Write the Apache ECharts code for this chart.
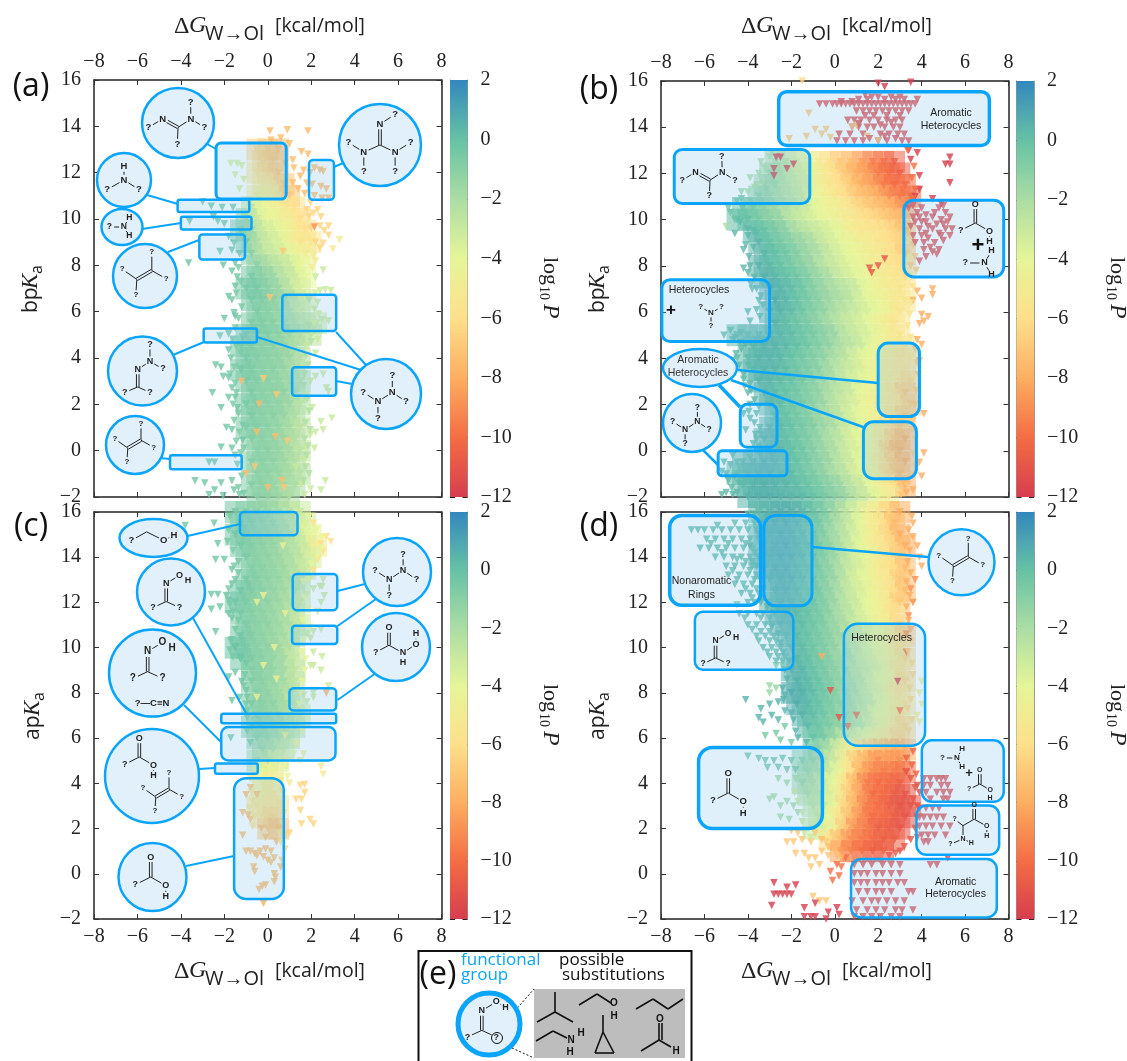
<!DOCTYPE html>
<html><head><meta charset="utf-8"><style>html,body{margin:0;padding:0;background:#fff}#c{width:1127px;height:1061px}</style>
<script src="https://cdn.jsdelivr.net/npm/echarts@6/dist/echarts.min.js"></script></head><body><div id="c"></div><script>
const xTicks=[-8,8],yTicks=[-2,16],cTicks=[-12,2];
const spectral=['#d53e4f','#f46d43','#fdae61','#fee08b','#e6f598','#abdda4','#66c2a5','#3288bd'];
// dense body of each cloud: [y, first x (step .5), log10 P ...]
const coreA=[[13,-.5,-6.5,-7,-7.5],[12.5,-.25,-6.5,-7],[12,-.5,-6,-6.5,-7],[11.5,-.25,-5.5,-6,-7],[11,-.5,-5,-5,-5.5,-7],[10.5,-.75,-2.5,-4,-4.5,-5,-6],[10,-1,-1.5,-3,-4,-4.5,-5,-6],[9.5,-1.25,-.5,-1.5,-3,-3.5,-4,-5,-6],[9,-1,-.5,-2,-3,-3.5,-4.5,-5.5,-5.5],[8.5,-.75,-1,-2.5,-3,-3.5,-4,-5],[8,-.5,-1,-2,-2.5,-3,-4],[7.5,-.75,-.5,-1,-1.5,-2.5,-3,-4],[7,-1,-.5,-.5,-1,-1.5,-2.5,-3.5],[6.5,-.75,-.5,-.7,-1,-1.5,-2.5,-3.5],[6,-.5,-.7,-1,-1.3,-2,-3],[5.5,-.75,-.7,-.8,-1,-1.5,-2,-2.5,-3],[5,-1,-.5,-.7,-.8,-1,-1.5,-2,-2.5],[4.5,-1.25,-.5,-.7,-1,-1,-1.3,-2],[4,-1,-.5,-.8,-1,-1.2,-1.5,-2.2],[3.5,-1.25,-.4,-.7,-1,-1,-1.3,-2],[3,-1,-.5,-.8,-1,-1.2,-1.6,-2.2],[2.5,-.75,-.7,-1,-1,-1.2,-1.8],[2,-1,-.5,-.8,-1,-1.2,-1.5,-2.3],[1.5,-.75,-.7,-1,-1,-1.3,-2],[1,-1,-.6,-.8,-1,-1.3,-1.8,-2.5],[.5,-.75,-.8,-1,-1.2,-1.5,-2.2],[0,-.5,-1,-1,-1.3,-1.8,-2.5],[-.5,-.75,-.8,-1,-1.2,-1.5,-2.2],[-1,-.5,-1,-1.1,-1.4,-1.8,-2.4],[-1.5,-.75,-.8,-1,-1.3,-1.6,-2],[-2,-.5,-1,-1.2,-1.5,-2]];
const coreB=[[12.5,-2.75,-2,-2.5,-3.5,-4,-5,-6,-7,-7.5,-8.5,-9.5,-10,-10.5],[12,-3,-1.5,-2,-3,-3.5,-4,-5,-6,-7,-8,-8.5,-9.5,-10,-10.5],[11.5,-3.25,-1.5,-1.5,-2.5,-3,-3.5,-4.5,-5.5,-6,-7,-8,-8.5,-9.5,-10,-10],[11,-3.5,-1,-1.5,-2,-2.5,-3,-4,-4.5,-5.5,-6,-7,-7.5,-8,-9,-9.5,-10],[10.5,-4.25,0,-.5,-1,-1.5,-2,-2.5,-3,-4,-4.5,-5,-5.5,-6.5,-7,-7.5,-8,-9],[10,-4.5,.2,0,-.5,-1,-1.5,-2.5,-3,-3.5,-4,-4.5,-5,-5.5,-6,-6.5,-7,-7.5],[9.5,-3.75,.3,0,-.5,-1,-2,-2.5,-3,-3.5,-4,-5,-5.5,-5.5,-6,-6.5,-7.5],[9,-3.5,.4,0,-.5,-1,-1.5,-2,-3,-3.5,-4,-4.5,-5,-5.5,-6,-6.5],[8.5,-3.25,.4,.1,-.3,-.8,-1.5,-2,-2.8,-3.5,-4,-4.5,-5,-5.5,-6,-7],[8,-3.5,.5,.3,0,-.5,-1,-1.5,-2.5,-3,-3.5,-4,-4.5,-5,-5.5,-6],[7.5,-3.25,.6,.4,.1,-.3,-.8,-1.5,-2,-3,-3.5,-4,-4.5,-5,-5.5,-6],[7,-3,.8,.5,.2,-.2,-.8,-1.5,-2,-2.5,-3,-4,-4.5,-5,-5.5],[6.5,-2.75,.7,.4,0,-.5,-1,-1.5,-2,-2.5,-3.5,-4,-4.5,-5,-5.5],[6,-3,.6,.5,.2,-.2,-.8,-1.2,-2,-2.5,-3,-3.5,-4,-4.5,-5.5],[5.5,-2.75,.5,.2,-.2,-.6,-1.2,-1.8,-2.5,-3,-3.5,-4,-5,-5.5],[5,-4.5,.2,.3,.4,.5,.4,.2,-.2,-.5,-1,-1.5,-2.5,-3,-3.5,-4,-5,-5.5],[4.5,-3.75,.4,.5,.5,.3,.1,-.3,-.8,-1.2,-2,-2.5,-3,-4,-4.5,-5,-5.5],[4,-4,.3,.5,.5,.4,0,-.3,-.8,-1.2,-2,-2.5,-3.5,-4,-4.5,-5,-6,-6],[3.5,-3.75,.4,.5,.4,.2,-.2,-.6,-1,-1.8,-2.5,-3,-3.5,-4.5,-5,-5.5,-6],[3,-3.5,.5,.4,.2,0,-.4,-.8,-1.5,-2,-3,-3.5,-4,-4.5,-5,-6,-6.5],[2.5,-3.25,.5,.3,0,-.3,-.8,-1.2,-2,-2.5,-3,-4,-4.5,-5,-6,-7],[2,-3,.4,.2,-.2,-.5,-1,-1.5,-2.5,-3,-3.5,-4.5,-5,-5.5,-6,-7],[1.5,-2.75,.3,0,-.4,-.8,-1.5,-2,-2.5,-3.5,-4,-4.5,-5,-6,-7],[1,-3,.5,.3,0,-.4,-.8,-1.5,-2,-3,-3.5,-4,-5,-6,-7],[.5,-3.25,.6,.4,.1,-.2,-.6,-1.2,-2,-2.5,-3.5,-4,-4.5,-5.5,-7,-8],[0,-3,.5,.4,.1,-.3,-.8,-1.5,-2,-3,-3.5,-4,-5,-7,-8],[-.5,-4.25,.4,.5,.6,.5,.3,0,-.4,-1,-1.5,-2.5,-3,-4,-4.5,-6,-7,-8],[-1,-4.5,.2,.4,.5,.6,.4,.2,-.2,-.6,-1.2,-2,-2.5,-3.5,-4,-5,-6.5,-7.5],[-1.5,-4.25,.3,.5,.6,.5,.4,.2,-.1,-.5,-1,-1.5,-2.5,-3,-4,-5,-6,-8],[-2,-4,.5,.6,.6,.5,.4,.3,0,-.5,-1,-1.5,-2.5,-3,-4,-5]];
const coreC=[[16,-1.5,-.4,-.8,-1,-1.3,-1.7,-2.3,-3],[15.5,-1.25,-.5,-.8,-1.1,-1.4,-2,-2.6,-3.5],[15,-1.5,-.3,-.6,-1,-1.2,-1.5,-2,-3,-4],[14.5,-1.25,-.5,-.8,-1,-1.3,-1.7,-2.3,-3,-5],[14,-1,-.6,-1,-1.2,-1.5,-2,-2.5,-3.5],[13.5,-.75,-.8,-1,-1.3,-1.6,-2.2,-3],[13,-1,-.5,-.9,-1.1,-1.4,-1.8,-2.5],[12.5,-1.25,-.3,-.7,-1,-1.3,-1.6,-2.2],[12,-1.5,-.2,-.6,-1,-1.2,-1.5,-2,-3],[11.5,-1.25,-.5,-.9,-1.1,-1.4,-1.8,-2.5],[11,-1,-.7,-1,-1.2,-1.6,-2,-3],[10.5,-1.25,-.3,-.8,-1.1,-1.4,-1.8,-2.5],[10,-1.5,0,-.5,-1,-1.2,-1.6,-2.2],[9.5,-1.25,-.2,-.7,-1,-1.3,-1.8,-2.8],[9,-.75,-.8,-1,-1.3,-1.8,-2.6],[8.5,-.75,-.7,-1,-1.3,-1.8,-2.6],[8,-.5,-.9,-1.2,-1.6,-2.2],[7.5,-.75,-.6,-1,-1.2,-1.7,-2.5],[7,-.5,-.8,-1.1,-1.4,-2,-3],[6.5,-.75,-.8,-1,-1.3,-1.8,-2.4],[6,-.5,-1,-1.3,-1.8,-2.4],[5.5,-.25,-1.5,-2,-2.8],[5,-.5,-1.8,-2.5,-3.5],[4.5,-.25,-4,-4.5],[4,-.25,-5,-5],[3.5,-.25,-5,-5.5],[3,-.5,-5.5,-5.5,-6],[2.5,-.25,-6,-6.5],[2,0,-7,-7.5]];
const coreD=[[16,-3.5,.3,.5,.7,.6,.4,0,-.6,-1.5,-2.5,-3.5,-4.5,-5.5,-6.5,-8],[15.5,-3.25,.5,.7,.7,.5,.1,-.4,-1.2,-2.2,-3,-4,-5,-6,-7.5],[15,-3.5,.4,.6,.7,.6,.3,-.2,-.8,-1.8,-2.5,-3.5,-4.5,-5.5,-6.5,-8],[14.5,-3.25,.5,.7,.8,.5,.2,-.5,-1.2,-2,-3,-4,-5,-5.5,-6.5,-8],[14,-3.5,.5,.6,.8,.7,.4,0,-.8,-1.5,-2.5,-3.5,-4,-5,-6,-7],[13.5,-3.25,.5,.7,.7,.4,.1,-.5,-1.2,-2,-3,-3.5,-4.5,-5.5,-6,-7.5],[13,-3,.6,.7,.6,.3,-.2,-.8,-1.5,-2.5,-3.5,-4,-5,-5.5,-7],[12.5,-2.75,.6,.6,.4,0,-.5,-1.2,-2,-3,-3.5,-4.5,-5,-6,-7.5],[12,-3,.4,.5,.5,.2,-.2,-.8,-1.5,-2.5,-3,-4,-4.5,-5.5,-7],[11.5,-2.75,.4,.5,.3,0,-.5,-1,-2,-2.5,-3.5,-4,-5,-6],[11,-2.5,.5,.4,.2,-.2,-.7,-1.5,-2,-3,-3.5,-4.5,-5,-6.5],[10.5,-2.25,.4,.3,0,-.5,-1,-1.5,-2.5,-3,-4,-4.5,-5.5,-7],[10,-2,.4,.2,-.2,-.7,-1.2,-2,-2.5,-3.5,-4,-5,-6],[9.5,-1.75,.4,.1,-.4,-.9,-1.5,-2,-3,-3.5,-4.5,-5,-6.5],[9,-2,.6,.4,0,-.5,-1,-1.5,-2.5,-3,-3.5,-4.5,-6],[8.5,-1.75,.6,.3,-.1,-.7,-1.2,-2,-2.5,-3.5,-4,-5,-6.5],[8,-2,.8,.6,.2,-.3,-.8,-1.5,-2,-3,-3.5,-5,-6],[7.5,-1.75,.7,.4,0,-.6,-1,-1.8,-2.5,-3,-4,-5,-6],[7,-1.5,.5,.2,-.3,-.8,-1.5,-2,-3,-4,-4.5,-6],[6.5,-1.25,.3,-.2,-.6,-1.2,-2,-2.5,-3.5,-4.5,-5.5,-6.5],[6,-1,0,-.5,-1.5,-2.5,-3.5,-4,-5,-5.5,-6.5],[5.5,-.75,-1,-2,-3.5,-5,-6,-7,-7.5,-8,-8],[5,-1.5,-.8,-1.2,-2,-3,-5,-7,-8,-9,-8.5,-9],[4.5,-1.25,-1.5,-2,-3,-4,-6,-8,-9,-9.5,-9.5,-10],[4,-1.5,-1.5,-2.2,-3,-4,-6,-8,-9.5,-10,-10,-10.5],[3.5,-1.25,-2,-2.5,-3.5,-5,-7,-8.5,-10,-10,-10.5,-11],[3,-1,-2.5,-3,-4,-6.5,-8,-9.5,-10,-10.5,-11,-11],[2.5,-.75,-3,-4,-6,-7.5,-9,-10,-10,-10.5,-11],[2,-1,-3,-3.5,-4.5,-7,-9,-9.5,-10.5,-10.5,-11],[1.5,-.25,-6,-7.5,-9,-9.5,-10,-10.5,-10.5],[1,.25,-8.5,-9.5,-10,-10.5,-10.5]];
// individual outlying points: [log10 P, x,y, x,y, ...]
const looseA=[[-7.5,.1,13.8,.9,13.85,1.85,13.8,.15,13.4,.6,13.5,1,13.25,1.55,12.9,1.85,12.8,1.15,12.55,.8,12.4,1.2,12.2,1.65,12.1,1.95,12,1.5,11.85,1.15,11.55,1.8,11.55,2.4,12.1,2.55,12.05,2.15,12.2,2.05,11.5,2.45,11.4,2.7,11.3,2.15,11,2.8,10.9,2.5,10.9,1.7,11.1,1.4,11.3],[-6.5,1.97,10.7,2.3,10.4,2.45,10.1,2.1,10.25,2.6,9.5,2.4,9.7,2.8,9.7,2.55,8.95,2.8,9.3,2.4,8.75,2.2,9,1.9,10.1,2,9.6,1.8,10.4],[-9,2.15,9.65],[-5,3.3,9.1,3,8.7,2.1,8.4,2.2,8.2,2.05,7.9],[-3.5,-1.7,12.4,-1.4,12.4,-1.5,11.9,-1.2,12.3,-1.1,11.7,-1.3,11.3],[-.3,-3,10.75,-2.6,10.55,-2.1,10.5,-1.6,10.5,-3.6,9.9,-2.5,10.1,-2.3,9.9,-2,9.8,-1.8,9.25,-1.55,8.95,-1.65,8.65,-1.3,8.5,-2.2,8.6,-3.65,8.1,-1.5,8.1,-2.05,8,-1.65,7.75,-1.4,7.5,-1.5,7.1,-1.8,6.65,-1.65,6.5,-1.55,5.95,-2,5.7,-1.5,5.8,-1.8,5.05,-2.2,4.95,-1.15,4.9,-1.8,4.35,-2.4,3.7,-2.05,3.2,-1.8,3.15,-2.15,3.6,-1.65,2.7,-2.55,2.5,-1.8,2.3,-1.4,1.85,-1.5,2.3,-2.15,1.85,-1.65,.9,-1.9,1,-1.15,.45,-2.15,.15,-1.65,.1,-1.5,-.2,-2.45,-.5,-2.7,-.5,-3.35,-1.3,-2.9,-1.4,-2.15,-1.4,-1.65,-1.3,-2.45,-1.7,-2.7,-1.9,-2.05,-1.95,-1.55,-1.7,-1.3,-1.9],[-3,2.55,7.8,2.2,7.5,2.65,6.95,2.4,6.9,2.9,6.9,2.3,6.4,2.5,5.65,2.8,5.6,2.15,6.1,2.05,5.1,2.3,4.8,1.8,4.5,2.2,4.2,2.55,3.3,2.2,3.2,1.97,3,2.7,2.7,2.8,2.55,1.8,2.4,2.05,1.85,2.95,1.4,2.45,1.25,2.55,.9,2.2,.8,1.97,.7,1.8,.1,2.15,.1,1.7,-.4,2.65,-1.3,1.97,-1.65,2.45,-1.7,1.7,-1.9,1.55,-1.45,1.3,-.7],[-7.5,-1.2,3,-.4,2,-.5,.8,.35,.6,-1,-1,.65,-1.3,0,-1.6]];
const edgeA=[[-.6,-1.35,7.9,-1.25,7.3,-1.45,6.8,-1.2,6.2,-1.35,5.7,-1.5,5.3,-1.6,4.8,-1.45,4.5,-1.7,4,-1.55,3.6,-1.75,3.3,-1.5,2.9,-1.45,2.5,-1.6,2,-1.35,1.6,-1.55,1.3,-1.3,.8,-1.45,.4,-1.25,-.1,-1.4,-.6,-1.2,-1.1,-1.35,-1.6,-1.1,-1.85,-1.1,.1,-1.15,1.1,-1.2,3.5,-1.25,4.2],[-2.2,1.9,6.5,1.75,4.1,1.85,3.7,1.7,3.3,1.65,2.8,1.8,2.2,1.9,1.7,1.75,1.2,1.95,.9,1.7,.5,1.85,.2,1.8,-.2,1.75,-.7,1.9,-1,1.65,-1.3,1.5,5,1.9,5.4,2,4.7],[-7,.75,-1.6,-.6,-.7,.9,.4,-.2,3.1,.4,2.4,.1,6.6,.7,8.6],[-3.5,2.2,6.8,2.35,5.9,2.15,5.5]];
const looseB=[[-11.5,-.7,15,-.4,15,-.1,15,.1,15,.3,15,.5,15,.7,15,.9,15,1.1,15,1.3,15,1.5,15,1.7,15,1.9,15,2.1,15,2.3,15,2.5,15,2.7,15,2.9,15,3.1,15,3.3,15,3.5,15,3.7,15,1.1,15.2,1.5,15.2,2,15.3,2.3,15.2,2.8,15.2,3.2,15.2,3.8,15.2,1,14.7,1.3,14.7,1.6,14.7,1.9,14.7,2.2,14.7,2.5,14.7,2.8,14.7,3.1,14.7,3.4,14.7,.9,14.3,1.2,14.3,1.6,14.3,2,14.3,2.4,14.3,2.8,14.3,3.1,14.3,.8,14,1.1,14,1.8,14,2.3,14,2.7,14,3,14,.2,13.7,.7,13.7,1.3,13.7,2.1,13.7,2.5,13.7,2.9,13.7,3.2,13.7,.1,13.4,.9,13.4,1.3,13.4,2,13.4,2.4,13.4,3.1,13.4,3.4,13.4,3.4,10.5,3.6,10.6,3.8,10.3,4,10.5,4.2,10.2,4.5,10.1,4.8,10.5,5,10.6,5.1,10.3,4.9,10,5.3,10.1,5.4,9.6,5.1,9.6,4.8,9.4,4.5,9.6,4.3,9.7,4,9.9,3.7,9.9,3.5,9.7,3.6,9.3,4,9.3,4.3,9.2,4.6,9,5,9.1,4.8,8.7,4.4,8.8,4.1,8.7,4.7,8.5],[-7,-2.1,13.5,-1.3,13.6,-.6,13.7,-.9,13.9,-.2,13.55,-.4,13.9,.8,14,1,14.1,-1.2,14.6,2,13.4,1.5,13.6],[-12,2,15.9,2.3,15.75,3.5,15.95,5.3,12.7,5.1,12.4,5.3,12.4,5.3,11.6,3.9,11.9,3.9,11.3,3.8,12.9,3.4,13,3.5,12.6,3.7,11,4.5,10.9,4.9,10.7,-2.7,12.7,-2.5,12.7,-2.8,12.2,-2.8,11.9,-2.2,12.2,-1.9,12.4],[-6,-1.5,16],[-8,4.5,7,4.5,6.75,3.8,6.9,4,6.6,3.6,6.5,4.1,5.6,4,5.9,4.3,5.8,3.9,5.5,3.8,4.8,4,4.6,3.9,3.9,4.1,1.6,4.1,-.1,3.9,-.5,4,-1.1,3.3,-1.8,3.6,-1.7],[-2,-5,9.7,-3,12.7,-3.2,12.2,-3.6,11.5,-3.9,11.8,-4,11.2,-3.3,11.6],[-.2,-4.6,10,-4.3,10.9,-4.8,10.3,-4.9,10.5,-4.5,10.8],[.3,-4,9.3,-3.6,9.4,-4.1,8.9,-4.2,8.7,-3.9,8,-4.2,7.9,-3.7,7.5,-4,7.7,-3.3,7.2,-3.8,7,-3.4,6.7,-3.3,6.3,-4,6,-3.9,5.6,-4.8,5.2,-5.1,5,-4.7,4.8,-4.3,4.4,-4.5,4,-4.7,3.6,-4.2,3.3,-3.9,2.9,-4,2.5,-3.7,2.2,-3.5,1.9,-4.2,1.6,-3.9,1.4,-4.1,.9,-3.6,.5,-3.5,.2,-3.4,.7,-5.1,-.5,-5.2,-.9,-4.8,-.6,-5,-1,-5.2,-1.9,-5,-1.8,-4.7,-1.9],[-11,1.6,7.9,2,8,1.7,7.7,2.3,8.3]];
const edgeB=[[.3,-3.95,8.4,-3.75,8.8,-4,9.6,-4.35,9.9,-4.6,9.4,-3.85,7.2,-3.6,7,-3.5,6.5,-3.6,6.1,-3.45,5.8,-4.3,5.1,-4.6,4.9,-4.35,4.7,-4.55,4.2,-4.7,3.9,-4.4,3.7,-4.2,3.1,-4.15,2.8,-3.85,2.6,-3.9,2,-3.6,1.6,-3.7,1.2,-3.45,1,-3.65,.7,-3.75,.3,-3.5,-.1,-3.9,-.3,-4.7,-.2,-4.5,-.5,-4.9,-1.3,-4.75,-1.6,-4.5,-1.8,-4.4,-1.4,-4.6,-1.1,-3.95,1.7,-4,3.7,-4.1,4.6],[-5.5,3.55,9,3.5,8.4,3.45,7.6,3.6,7.1,3.5,6.4,3.45,5.9,3.35,5.4,3.5,4.9],[-10,3.65,12.3,3.55,11.8,3.7,11.3,3.6,10.9,3.35,13],[-7,3.7,4.4,3.8,3.8,3.85,3.3,3.75,2.6,3.7,2,3.6,1.3,3.55,.9,3.7,.5,3.6,-.1,3.75,-.7,3.5,-1.1,3.3,-1.5,3.05,-1.9,3.6,8.9,3.7,8.4,3.5,8,3.75,7.8,3.4,9.4],[-2,-2.9,12.9,-3.4,12.5,-3.5,12,-3.7,11.4],[-1.5,-4.3,11.2],[-11.5,.3,15.1,.8,15.1,1.4,15.4,1.7,15.3,2.6,15.3,3,15.3,1.4,14.5,1.8,14.5,2.4,14.5,3,14.5,1.1,14.15,1.5,14,2.1,14.1,2.6,14.2,.6,14.3,1.6,13.5,2.3,13.6,2.8,13.5,.5,13.4,3.6,10.1,3.9,10.1,4.2,9.9,4.6,10.3,5,9.8,5.2,9.9,4.7,9.8,4.2,9.4,3.9,9.6,3.7,9,4.1,9,4.9,9.3,5.3,9.3,4.5,8.6,4.2,8.4,3.9,8.2]];
const looseC=[[-.3,-2.47,15.5,-3.8,15.4,-2.3,14.6,-2,13.9,-2.4,13.9,-1.65,13.45,-1.5,13,-2.6,12.35,-2.3,12.35,-1.8,12.1,-2.6,11.7,-2.2,11.8,-1.8,11.5,-1.65,11.3,-2.4,10.7,-1.65,10.35,-1.5,10.05,-1.3,9.6,-1,9.3,-1.5,8.9,-1.2,8.5,-1.8,8.7,-1,8.1,-1.3,7.8,-1.65,7.65,-1.7,6],[-6,2.1,15.5,2.7,14.9,2.9,14.7,2.45,14.6,2.55,14.25,2.3,13.9,2.1,13.4],[-3,1.9,13,2.55,13,2.4,12.7,2.6,12.3,2.45,12,2.1,12.6,2.5,12.7,1.8,12.35,2.3,11.6,2.45,10.8,2.1,10.7,1.8,10.6,1.97,10.4,2.1,9.8,1.97,9.2,2.5,9.6,2.1,9.2,2.45,9,2.8,8.3,2.1,8,1.65,7.9,1.8,7.6,2.1,7.8],[-8,2.7,8],[-5,.8,6.1,1.3,5.7,1.65,5.3,2.45,4.75,2.55,4.4,1.5,5,.9,5,1,4],[-6.5,1.5,3.9,1.7,3.6,1.55,3.3,1.3,3.3,1.5,2.8,1.7,3.95,1.95,2.4,2.1,2.2,1.55,2.2,1,1.8,.8,1.7,.8,1.1,.65,.6],[-7.5,-1.15,2.7,-.9,2.6,-.8,2.4,-1.15,1.7,-1,1,-.8,1,-.6,.9,-.35,1,-.1,1.1,.15,1,-.5,.8,-.2,.75,.3,.7,0,.6,.15,.5,.6,.3,-.65,.3,-.6,.1,.3,0,.35,-.15,.3,-.35,-.1,-.5,-.25,-.55,-.4,-.7,-.8,3.8,-.5,3.5,-1,3.5,-.3,2,.4,1.4,-.1,1.6],[-8,-.2,-1.3],[-8.5,-.8,-2.05],[-4.5,.3,10,-.5,12,.4,8.6,-.5,7.8,-.2,9.2,.8,11.5,.7,14.5,-.2,12.3]];
const edgeC=[[-.5,-1.75,15.8,-1.8,15.2,-1.85,14.7,-1.6,14.3,-1.35,13.8,-1.55,13.6,-1.35,13.3,-1.65,12.8,-1.8,12.6,-1.9,12.3,-1.75,11.9,-1.6,11.6,-1.35,11.2,-1.5,10.8,-1.7,10.3,-1.75,9.9,-1.6,9.6,-1.05,8.8,-1.1,8.3,-.95,7.8,-1,7.5,-.95,7.2,-.95,6.9,-.95,6.3,-.8,5.8],[-4,1.9,15.8,2.25,15.2,2.5,14.9,2.5,14.4,2.3,14,2,13.7,1.9,13,1.65,12.9,1.7,12.2,1.85,11.7,1.6,11.2,1.95,10.9,1.65,10.3,1.55,9.8,1.75,9.5,1.7,9,1.6,8.5,1.5,8,1.45,7.5,1.85,7,1.6,6.3,1.35,5.8,1.2,5.3,.85,4.7,.9,4.3],[-5.5,-.8,4.2,-.75,3.6,-.7,3.2,-.85,2.9,-.6,2.5,-.7,2.1,.6,4.1,.7,3.6,.6,3.1,.75,2.7,.7,2.2,.55,1.8,.6,1.4]];
const looseD=[[.3,-6.6,15.2,-6.3,15.2,-6,15.2,-5.6,15.2,-5.2,15.2,-4.8,15.2,-4.4,15.2,-4,15.2,-3.6,15.2,-5.9,14.8,-5.5,14.8,-5.1,14.8,-4.7,14.8,-4.3,14.8,-3.9,14.8,-3.5,14.8,-6.2,14.4,-5.8,14.4,-5.4,14.4,-5,14.4,-4.6,14.4,-4.2,14.4,-3.8,14.4,-5.5,14,-5.1,14,-4.7,14,-4.3,14,-3.9,14,-3.5,14,-5,13.6,-4.6,13.6,-4.2,13.6,-3.8,13.6,-4.9,13.2,-4.4,13.2,-4,13.2,-3.6,13.2,-4.6,12.8,-4.2,12.8,-3.8,12.8,-4.3,12.4,-3.9,12.4,-3.5,12.4,-4,12,-3.7,12,-3.4,12,-4,15.9,-3.7,15.9,-3.7,15.5,-4.4,11.5,-4,11.5,-3.6,11.5,-3.3,11.5,-4,11,-3.6,11,-3.2,11,-2.9,11,-3.6,10.5,-3.2,10.5,-2.8,10.5,-3.3,10,-2.9,10,-2.5,10,-3,9.6,-2.6,9.6,-2.3,9.6],[-1,-4.5,11.9,-2.7,9.2,-2.4,9.2],[-1.5,-3,8.3,-3,8,-2.7,8.2],[.5,-4.1,7.7,-3.4,7.3,-3,7.5,-2.6,7.6,-2.3,7.9,-3.5,6.9,-3.3,6.7,-2.9,7,-2.6,6.8,-2.3,7.2],[-.5,-3.2,6.1,-2.7,6.2,-2.5,5.9,-2.3,6.5,-2,5.8],[-.3,-4,5.2,-3.5,5.1,-3.2,5,-2.8,5,-2.4,5.1,-2,5,-3.1,4.7,-2.6,4.7,-2.2,4.6,-1.8,4.6],[-1.8,-2.6,4.2,-2.2,4,-1.8,4.2,-3,3.3,-2.8,3.4,-2.5,3,-2.2,3.2,-1.9,3,-2.5,2.5,-2.1,2.4,-1.7,2.7],[-7,-2,1.9,-1.7,1.8,-2.2,1.4,-1.9,1.4,-1.5,1.5,-1.1,1.4,-.9,1.8,-1.8,.9,-1.4,.9,-1.2,.7,-.9,.7,-1.1,.3,-.7,.4,-.6,1,-.4,1.4,-.3,.8,-1,-1,-.7,-1.2,-.4,-1.2],[-10,.1,.4,-.2,.1,.2,-.1,-.1,-.3,.3,.3,.5,.7],[-12,-2.8,-.4,-2.8,-.9,-2.6,-.9,-2.4,-.9,-2.2,-.9,-2,-.9,-2.9,-1.4,-2.2,-.6,-1.8,-.5,-1.4,-1.5,-1.4,-1.9,-1.1,-1.9,-.9,-1.9,-.4,-2,-.3,-1.7,.1,-1.5,.2,-1.8,-.9,-1.3],[-11.5,.9,.4,1.3,.4,1.7,.4,2.2,.4,2.6,.4,3,.4,.9,0,1.2,0,1.5,0,1.9,0,2.2,0,2.6,0,3,0,.9,-.4,1.2,-.4,1.5,-.4,1.9,-.4,2.2,-.4,2.5,-.4,2.9,-.4,3.2,-.4,1.1,-.8,1.5,-.8,1.9,-.8,2.2,-.8,2.6,-.8,3.4,-.8,3.6,-.8,.8,-1.2,1.3,-1.2,1.7,-1.2,2,-1.2,2.4,-1.2,2.8,-1.2,3.2,-1.2,1,-1.6,1.5,-1.6,1.9,-1.6,2.3,-1.6,2.8,-1.6,3.1,-1.6,3.6,-1.6,.9,-1.9,1.3,-1.9,1.7,-1.9,2.1,-1.9,2.6,-1.9,3,-1.9,4.4,.4,4.7,.4,5.2,.7,4.1,4.2,4.4,4.2,4.7,4.2,4.9,4.2,5.1,4.2,3.8,3.9,4.1,3.9,4.4,3.9,4.9,3.9,5.2,3.9,3.9,3.6,4.2,3.6,4.7,3.6,5,3.6,5.3,3.6,4.4,3.3,5,3.3,5.2,3.3,3.9,2.9,4.2,2.9,4.5,2.9,4.8,2.9,3.8,2.5,4.1,2.5,4.4,2.5,4.7,2.5,5,2.5,3.9,2.1,4.2,2.1,4.5,2.1,4.9,2.1,5.3,2.1,4,1.7,4.3,1.7,4.6,1.7,5.1,1.7,4.1,1.4,4.3,1.4],[-11,3.3,4.5,3.5,4.2,3.7,3.8,3.6,3.3,3.8,3,3.9,2.5,3.7,2,3.8,1.6,3.5,1.5,3.2,1.2,3,1,2.8,.9,2.5,.8,.2,6.9,-.2,8.1],[-8,3.6,15.5,3.8,14.5,3.9,14,4,13.6,-.6,9.6],[-9,3.5,12.6,3.6,12,3.4,11.4,3.7,13,3.3,10.6],[-4.5,4,8.5,3.9,8,4,7.5,3.8,7,3.9,6.7],[-12,2.9,8.5],[-10,3,7.2,3.3,9.8,1,7,.6,6.5]];
const edgeD=[[.5,-3.9,14.5,-3.8,13.8,-3.6,13.6,-3.4,13,-3.3,12.6,-3.35,12.2,-3.1,11.8,-3,11.3,-2.9,10.9,-2.6,10.6,-2.5,10.2,-2.35,9.8,-2.1,9.4,-2.3,9,-2.2,8.6,-2.4,8.2,-2.35,7.7,-2,7.1,-1.9,6.8,-1.8,6.3,-1.7,6,-1.3,5.8],[-8,3.55,15.8,3.4,15.2,3.6,14.9,3.45,14.3,3.35,13.8,3.5,13.3,3.3,12.9,3.45,12.3,3.3,11.8,3.4,11.2,3.5,10.8],[-6.5,3.5,10.3,3.4,9.8,3.55,9.3,3.6,8.8,3.45,8.2,3.5,7.7,3.35,7.3,3.55,6.8,3.4,6.3],[-10.5,3.6,5.4,3.3,5.1,3.55,4.8,3.75,4.4],[-3,-1.85,3.6,-1.7,3.2,-1.5,2.7,-1.5,2.3,-1.4,1.8,-1.1,1.6],[-7.5,-.6,1.5,-.3,1.2,0,1,.1,.8,.3,.7],[.2,-5.4,15.4,-4.6,15.5,-4.1,15.5,-5.7,14.6,-4.9,14.6,-4.1,14.6,-3.7,14.2,-5.2,14.2,-4.5,13.9,-4.1,13.8,-4.7,13.4,-3.9,13.4,-4.5,13,-3.7,13,-4.1,12.6,-3.6,12.6,-3.8,12.2,-4.15,11.3,-3.4,11.3,-3.8,10.8,-3.4,10.7,-3,10.7,-3.5,10.3,-3,10.3,-2.7,10.3,-3.1,9.8,-2.7,9.8,-2.4,9.4,-2.7,9.4]];
// highlighted regions: [x1,y1,x2,y2,corner,line]
const boxesA=[[-2.38,13.28,.85,10.86,5,3],[1.9,12.55,3.05,10.83,4,2.5],[-4.15,10.83,-.85,10.3,2,2.5],[-4,10.1,-.75,9.55,2,2.5],[-3.15,9.33,-1.05,8.25,3,2.5],[.67,6.73,3.15,5.17,3,2.5],[-2.95,5.27,-.5,4.67,2,2.5],[1.12,3.6,3.15,2.37,3,2.5],[-4.5,-.2,-1.2,-.8,2,2.5]];
const boxesB=[[-2.58,15.54,7.12,13.21,8,3.5],[-7.39,13.04,-1.15,10.7,8,3],[3.18,10.84,7.78,7.52,10,3],[-7.96,7.4,-3,4.73,8,3],[2,4.66,3.9,1.48,10,3],[-4.35,2.01,-2.66,.15,7,3],[1.32,1.26,3.76,-1.21,10,3],[-5.37,0,-2.2,-1.08,4,3]];
const boxesC=[[-1.28,16,1.37,14.97,4,2.5],[1.15,13.26,3.2,11.66,4,2.5],[1.12,10.97,3.2,10.16,3,2.5],[1,8.21,3.15,7.22,4,2.5],[-2.14,7.08,3.15,6.66,2,2.5],[-2.14,6.49,3.12,5.01,7,2.5],[-2.43,4.88,-.46,4.42,2,2.5],[-1.55,4.23,.74,-1.11,12,2.5]];
const boxesD=[[-7.6,15.85,-3.41,11.88,12,3.5],[-3.26,15.85,-1.05,11.85,12,3],[-6.44,11.59,-1.91,9.02,8,2.5],[.42,11.06,4.16,5.66,14,2.5],[-6.27,5.59,-.57,2,14,3.5],[4.01,5.9,7.78,3.18,10,2.5],[3.76,3.02,7.57,.84,10,2.5],[.75,.65,7.46,-1.93,10,2.5]];

const BLUE='#0aa5fb',FILL='#e1f0fa',WASH='rgba(133,194,235,0.25)',INK='#222';
const SERIF='Liberation Serif',SANS='Open Sans',ARIAL='Liberation Sans';
const fromCore=rows=>rows.flatMap(r=>r.slice(2).map((p,i)=>[r[1]+i*.5,r[0],p]));
const fromLoose=g=>g.flatMap(r=>{const o=[];for(let i=1;i<r.length;i+=2)o.push([r[i],r[i+1],r[0]]);return o;});
const panels=[
{core:coreA,loose:looseA.concat(edgeA),boxes:boxesA,l:94,t:80,h:417,cb:450,lab:'top'},
{core:coreB,loose:looseB.concat(edgeB),boxes:boxesB,l:661,t:81,h:416,cb:1016.5,lab:'top'},
{core:coreC,loose:looseC.concat(edgeC),boxes:boxesC,l:94,t:512,h:407,cb:450,lab:'bottom'},
{core:coreD,loose:looseD.concat(edgeD),boxes:boxesD,l:661,t:512,h:407,cb:1016.5,lab:'bottom'}];
const W=347.5,grid=[],xAxis=[],yAxis=[],series=[],scatter=[];
const minus=v=>String(v).replace('-','\u2212');
function axisBase(o){return Object.assign({type:'value',splitLine:{show:false},axisLine:{show:true,onZero:false,lineStyle:{color:INK,width:1.5}},axisTick:{show:true,inside:true,length:5,lineStyle:{color:'#333',width:1}},axisLabel:{show:false,color:INK,fontFamily:SERIF,fontSize:20,formatter:minus,showMinLabel:true,showMaxLabel:true,hideOverlap:false}},o);}
panels.forEach(p=>{
 const g=grid.length;grid.push({left:p.l,top:p.t,width:W,height:p.h});
 const xi=xAxis.length,yi=yAxis.length;
 ['top','bottom'].forEach(pos=>{const a=axisBase({gridIndex:g,position:pos,min:xTicks[0],max:xTicks[1],interval:2});a.axisLabel=Object.assign({},a.axisLabel,{show:pos===p.lab,margin:8});xAxis.push(a);});
 ['left','right'].forEach(pos=>{const a=axisBase({gridIndex:g,position:pos,min:yTicks[0],max:yTicks[1],interval:2});a.axisLabel=Object.assign({},a.axisLabel,{show:pos==='left',margin:13});yAxis.push(a);});
 const cells=fromCore(p.core);
 scatter.push(series.length);
 series.push({type:'scatter',xAxisIndex:xi,yAxisIndex:yi,data:cells,symbol:'rect',symbolSize:[21,22],itemStyle:{opacity:.55},z:2,silent:true,encode:{x:0,y:1}});
 scatter.push(series.length);
 series.push({type:'scatter',xAxisIndex:xi,yAxisIndex:yi,data:cells,symbol:'triangle',symbolRotate:180,symbolSize:8,z:3,silent:true,encode:{x:0,y:1}});
 scatter.push(series.length);
 series.push({type:'scatter',xAxisIndex:xi,yAxisIndex:yi,data:fromLoose(p.loose),symbol:'triangle',symbolRotate:180,symbolSize:7.5,z:3,silent:true,encode:{x:0,y:1}});
 series.push({type:'custom',xAxisIndex:xi,yAxisIndex:yi,data:p.boxes,z:4,silent:true,clip:false,encode:{x:[0,2],y:[1,3]},renderItem:(ps,api)=>{
  const a=api.coord([api.value(0),api.value(1)]),b=api.coord([api.value(2),api.value(3)]);
  return {type:'rect',shape:{x:a[0],y:a[1],width:b[0]-a[0],height:b[1]-a[1],r:api.value(4)},style:{fill:WASH,stroke:BLUE,lineWidth:api.value(5)}};}});
 // colour bar
 const g2=grid.length;grid.push({left:p.cb,top:p.t,width:17.5,height:p.h});
 const xc=xAxis.length,yc=yAxis.length;
 xAxis.push({type:'value',gridIndex:g2,min:0,max:1,show:false});
 ['right','left'].forEach(pos=>{const a=axisBase({gridIndex:g2,position:pos,min:cTicks[0],max:cTicks[1],interval:2});a.axisLine.lineStyle={color:'#999',width:1};a.axisTick.lineStyle={color:'#222',width:1};a.axisLabel=Object.assign({},a.axisLabel,{show:pos==='right',margin:13});yAxis.push(a);});
 series.push({type:'custom',xAxisIndex:xc,yAxisIndex:yc,data:[[0,cTicks[0],1,cTicks[1]]],z:1,silent:true,encode:{x:[0,2],y:[1,3]},renderItem:(ps,api)=>{
  const a=api.coord([0,cTicks[1]]),b=api.coord([1,cTicks[0]]);
  return {type:'rect',shape:{x:a[0],y:a[1],width:b[0]-a[0],height:b[1]-a[1]},style:{fill:{type:'linear',x:0,y:1,x2:0,y2:0,colorStops:spectral.map((c,i)=>({offset:i/7,color:c}))}}};}});
});
// ----- annotation layer
const gfx=[];
const T=(text,x,y,font,fill,align,rot)=>gfx.push({type:'text',x,y,rotation:rot||0,z:60,silent:true,style:{text,x:0,y:0,font,fill:fill||INK,align:align||'center',verticalAlign:'middle'}});
const L=(a,b,c,d,w,col,dash)=>gfx.push({type:'line',z:50,silent:true,shape:{x1:a,y1:b,x2:c,y2:d},style:{stroke:col||BLUE,lineWidth:w||2,lineDash:dash||null}});
const C=(x,y,rx,ry,w)=>gfx.push({type:'ellipse',z:55,silent:true,shape:{cx:x,cy:y,rx,ry},style:{fill:FILL,stroke:BLUE,lineWidth:w||2.5}});
function mol(def,cx,cy,s,fs){
 const A=def.a,P=i=>[cx+A[i][1]*s,cy+A[i][2]*s];
 def.b.forEach(b=>{const p=P(b[0]),q=P(b[1]),dx=q[0]-p[0],dy=q[1]-p[1],d=Math.hypot(dx,dy),g=fs*.55;
  const t0=A[b[0]][0]?g/d:0,t1=A[b[1]][0]?g/d:0,x1=p[0]+dx*t0,y1=p[1]+dy*t0,x2=q[0]-dx*t1,y2=q[1]-dy*t1,o=b[2]||1,nx=-dy/d*1.3,ny=dx/d*1.3;
  const seg=k=>gfx.push({type:'line',z:58,silent:true,shape:{x1:x1+nx*k,y1:y1+ny*k,x2:x2+nx*k,y2:y2+ny*k},style:{stroke:'#222',lineWidth:1}});
  if(o===1)seg(0);else if(o===2){seg(-1);seg(1);}else{seg(-1.6);seg(0);seg(1.6);}});
 A.forEach(a=>{if(a[0])T(a[0],cx+a[1]*s,cy+a[2]*s,'bold '+fs+'px "'+ARIAL+'"','#222');});
}
const M={
amidine:{a:[['N',-.45,-.12],['',0,.13],['?',-.02,.62],['N',.38,-.12],['?',.37,-.62],['?',.78,.13],['?',-.87,.13]],b:[[6,0],[0,1,2],[1,2],[1,3],[3,4],[3,5]]},
guan:{a:[['',0,0],['N',0,-.58],['?',.42,-.85],['N',-.45,.2],['?',-.88,-.07],['?',-.45,.72],['N',.42,.2],['?',.85,-.07],['?',.42,.72]],b:[[0,1,2],[1,2],[0,3],[3,4],[3,5],[0,6],[6,7],[6,8]]},
nh:{a:[['H',0,-.5],['N',0,0],['?',-.62,.35],['?',.55,.35]],b:[[0,1],[1,2],[1,3]]},
nh2:{a:[['?',-.7,0],['N',.1,0],['H',.4,-.5],['H',.4,.5]],b:[[0,1],[1,2],[1,3]]},
alkene:{a:[['',.2,-.16],['',-.24,.1],['?',.2,-.7],['?',.62,.08],['?',-.67,-.2],['?',-.27,.55]],b:[[0,1,2],[0,2],[0,3],[1,4],[1,5]]},
hydrazone:{a:[['N',.22,-.28],['?',.22,-.78],['?',.6,-.06],['N',-.14,-.05],['',-.14,.47],['?',-.52,.63],['?',.22,.63]],b:[[0,1],[0,2],[0,3],[3,4,2],[4,5],[4,6]]},
hydrazine:{a:[['N',.18,-.05],['?',.18,-.52],['?',.57,.22],['N',-.23,.22],['?',-.65,-.05],['?',-.23,.7]],b:[[0,1],[0,2],[0,3],[3,4],[3,5]]},
oxime:{a:[['',-.14,.28],['N',-.14,-.25],['O',.25,-.49],['H',.5,-.34],['?',-.53,.46],['?',.25,.46]],b:[[0,1,2],[1,2],[2,3],[0,4],[0,5]]},
cooh:{a:[['',-.05,0],['O',-.05,-.57],['O',.38,.25],['H',.38,.57],['?',-.49,.22]],b:[[0,1,2],[0,2],[2,3],[0,4]]},
alcohol:{a:[['?',-.65,.07],['',-.2,-.18],['O',.3,.07],['H',.6,-.08]],b:[[0,1],[1,2],[2,3]]},
hydrox:{a:[['',-.2,-.05],['O',-.2,-.55],['?',-.58,.15],['N',.2,.17],['H',.2,.45],['O',.57,-.08],['H',.57,-.38]],b:[[0,1,2],[0,2],[0,3],[3,4],[3,5],[5,6]]},
nr3:{a:[['N',0,0],['?',-.4,-.23],['?',.4,-.23],['?',0,.5]],b:[[0,1],[0,2],[0,3]]},
aa:{a:[['?',-.55,-.35],['',-.25,-.12],['',.15,-.35],['O',.15,-.85],['O',.6,-.1],['H',.6,.25],['N',-.25,.35],['?',-.7,.55],['H',.05,.5]],b:[[0,1],[1,2],[2,3,2],[2,4],[4,5],[1,6],[6,7],[6,8]]}
};
const F=(s,fam,st)=>(st?st+' ':'')+s+'px "'+fam+'"';
const xTitle=(cx,y)=>{const l=cx-93;
 T('\u0394',l,y,F(24,SERIF),INK,'left');T('G',l+15,y-1,F(24,SERIF,'italic'),INK,'left');
 T('W\u2192Ol',l+31,y+7,F(20,SANS),INK,'left');T('[kcal/mol]',l+101,y-1,F(19.5,SANS),INK,'left');};
const yTitle=(x,y,s)=>{const r=Math.PI/2;
 T(s,x,y+23,F(21,SANS),INK,'left',r);T('K',x,y-1,F(23,SERIF,'italic'),INK,'left',r);T('a',x+6,y-16,F(16,SANS),INK,'left',r);};
const zTitle=(x,y)=>{const r=-Math.PI/2;
 T('log',x,y-33,F(22,SERIF),INK,'left',r);T('10',x-6,y-4,F(14,SERIF),INK,'left',r);T('P',x,y+14,F(24,SERIF,'italic'),INK,'left',r);};
[[267,27],[834,27],[267,972],[834,972]].forEach(p=>xTitle(p[0],p[1]));
yTitle(31,290,'bp');yTitle(598,290,'bp');yTitle(33,717,'ap');yTitle(598,717,'ap');
zTitle(550,290);zTitle(1117,290);zTitle(550,717);zTitle(1117,717);
[['(a)',31,87],['(b)',599,90],['(c)',31,527],['(d)',599,527]].forEach(a=>T(a[0],a[1],a[2],F(32,SANS),'#111'));
const A10=F(10.5,ARIAL);
// (a)
[[207,144,216,149],[334,167,343,163],[147,195,178,204],[142,229,181,223],[168,252,199,240],[173,355,204,342],[257,337,361,370],[336,332,366,365],[336,381,352,384],[160,458,170,459]].forEach(l=>L(l[0],l[1],l[2],l[3],2));
[[178,123,36,35,M.amidine,34,9.5],[380,145,41,41,M.guan,36,9.5],[124,180,27,27,M.nh,27,9.5],[122,227,20.5,18,M.nh2,18,8.5],[145,276,32,32,M.alkene,34,8],[142.5,371,34.5,34.5,M.hydrazone,34,9],[386,394,35,35,M.hydrazine,35,9.5],[135,445,29,29,M.alkene,30,8]].forEach(c=>{C(c[0],c[1],c[2],c[3]);mol(c[4],c[0],c[1],c[5],c[6]);});
// (b)
[[738,370,878,383,2.5],[731,380,863,427,2.5],[719,385,740,407,3.5],[703,450,718,465,2.5]].forEach(l=>L(l[0],l[1],l[2],l[3],l[4]));
C(700,368,37,19,2.5);C(692,423,29,29,2.5);mol(M.hydrazine,692,423,30,8.5);
T('Aromatic',698,360,A10,'#333');T('Heterocycles',698,373,A10,'#333');
T('Aromatic',951,113,A10,'#222');T('Heterocycles',951,126,A10,'#222');
T('Heterocycles',699,290,A10,'#222');
mol(M.amidine,710,176,32,9);mol(M.nr3,711,313,26,8);mol(M.cooh,977,223,33,9);mol(M.nh2,982,263,24,9);
T('+',671,310,F(17,ARIAL,'bold'),'#111');T('+',978,246,F(22,ARIAL,'bold'),'#111');
// (c)
[[187.5,536,240,524],[193,618,246,713],[184,705,221,742],[199,769,215,768],[186,866,234,856],[337.5,591,365,584],[337.5,626,376,599],[337.5,700,376,673]].forEach(l=>L(l[0],l[1],l[2],l[3],2));
[[153.5,538,34,19,M.alcohol,34,9.5],[171,592,34,33.5,M.oxime,34,9],[152.5,673,43.5,43.5,null],[152,776,47,47,null],[152.5,877,34,34,M.cooh,35,9],[397,572,34,34,M.hydrazine,34,9],[396,647,34,34,M.hydrox,35,9]].forEach(c=>{C(c[0],c[1],c[2],c[3]);if(c[4])mol(c[4],c[0],c[1],c[5],c[6]);});
mol(M.oxime,153,661,38,10);T('?\u2014C\u2261N',152,703,F(9.5,ARIAL,'bold'),'#222');
mol(M.cooh,141,757,33,9);mol(M.alkene,163,794,30,8);
// (d)
L(812,547,928,557,2.5);C(961.5,562.3,33,33,2.5);mol(M.alkene,961.5,562.3,34,8);
T('Nonaromatic',701.5,581,A10,'#222');T('Rings',701.5,595,A10,'#222');
T('Heterocycles',881.6,638,A10,'#222');T('Aromatic',955.6,882,A10,'#222');T('Heterocycles',955.6,894,A10,'#222');
mol(M.oxime,720,649,32,8.5);mol(M.cooh,730,793,35,9.5);mol(M.nh2,955,758,18,8);T('+',969,773,F(13,ARIAL,'bold'),'#222');mol(M.cooh,981,784,24,7);mol(M.aa,970,829,28,7);
// (e)
gfx.push({type:'rect',z:40,silent:true,shape:{x:418.5,y:951,width:273,height:125},style:{fill:'#fff',stroke:'#111',lineWidth:2}});
gfx.push({type:'rect',z:41,silent:true,shape:{x:534,y:989,width:151,height:69},style:{fill:'#bdbdbd'}});
T('(e)',438,975,F(32,SANS),'#111');
T('functional',461,960,F(17,SANS),BLUE,'left');T('group',461,975,F(17,SANS),BLUE,'left');
T('possible',559,960,F(17,SANS),'#111','left');T('substitutions',562,975,F(17,SANS),'#111','left');
C(489,1024,31,31,5);mol(M.oxime,487,1020,37,9);
gfx.push({type:'circle',z:59,silent:true,shape:{cx:497,cy:1038,r:5.5},style:{fill:'none',stroke:'#111',lineWidth:1}});
L(499,1029,534,989,1,'#111',[2,2]);L(501,1043,534,1058,1,'#111',[2,2]);
[[555,992,555,1012],[555,1012,537,1022],[555,1012,573,1022],[579,1005,597,994],[597,994,611,1003],[636,1009,653,999],[653,999,668,1009],[668,1009,683,999],[536,1041,553,1031],[553,1031,567,1038],[603,1015,603,1032],[603,1032,595,1053],[603,1032,614,1053],[595,1053,614,1053],[641,1051,659,1040],[659,1040,659,1023],[662,1040,662,1023],[659,1040,671,1047]].forEach(l=>gfx.push({type:'line',z:60,silent:true,shape:{x1:l[0],y1:l[1],x2:l[2],y2:l[3]},style:{stroke:'#111',lineWidth:1.6}}));
[['O',614,1003],['H',614,1016],['N',571,1040],['H',581,1033],['H',570,1052],['O',660,1019],['H',676,1051]].forEach(a=>T(a[0],a[1],a[2],F(10,ARIAL,'bold'),'#111'));

const chart=echarts.init(document.getElementById('c'),null,{renderer:'canvas'});
chart.setOption({animation:false,backgroundColor:'#fff',textStyle:{fontFamily:SERIF},grid,xAxis,yAxis,series,graphic:{elements:gfx},
 visualMap:{show:false,type:'continuous',seriesIndex:scatter,dimension:2,min:cTicks[0],max:cTicks[1],inRange:{color:spectral}}});
</script></body></html>
